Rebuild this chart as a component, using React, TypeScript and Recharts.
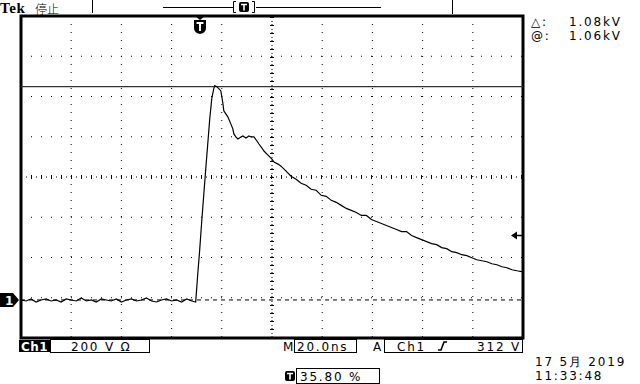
import React from "react";
import {
  LineChart,
  Line,
  XAxis,
  YAxis,
  CartesianGrid,
  ReferenceLine,
  ReferenceArea,
} from "recharts";

// Ch1 trace, time in ns (20 ns/div), volts relative to ground (200 V/div)
const timeNs = [
  0, 2, 4, 6, 8, 10, 12, 14, 16, 18, 20, 22, 24, 26, 28, 30, 32, 34, 36, 38,
  40, 42, 44, 46, 48, 50, 52, 54, 56, 58, 60, 62, 64, 66, 68, 69.6,
  70.4, 71.2, 72, 72.8, 73.6, 74.4, 75.2, 76, 76.8, 77.2,
  78, 78.8, 79.6, 80.4, 80.8, 81.6, 82.4, 83.6, 84.4, 84.8, 85.6, 86.4, 87.6,
  88.4, 89.6, 90.8, 91.6, 92.8, 94, 94.8, 96, 96.8, 98, 98.8, 100, 100.8,
  102.4, 103.6, 105.6, 107.6, 109.6, 111.6,
  113.6, 115.6, 117.6, 119.6, 121.6, 123.6, 125.6, 127.6, 129.6, 131.6, 133.6,
  135.6, 137.6, 139.6, 141.6, 143.6, 145.6, 147.6, 149.6, 151.6, 153.6, 155.6,
  157.6, 159.6, 161.6, 163.6, 165.6, 167.6, 169.6, 171.6, 173.6, 175.6, 177.6,
  179.6, 181.6, 183.6, 185.6, 187.6, 189.6, 191.6, 193.6, 195.6, 197.6, 200,
];

const ch1Volts = [
  0, -5, 5, -10, 0, 5, -5, 0, -10, 5, 0, -5, 10, -5, 0, -10, 5, 0, -5, 5,
  -10, 0, 5, -5, 0, 10, -5, -10, 0, 5, -5, 0, -10, 5, -5, -10,
  125, 250, 390, 520, 650, 775, 900, 1000, 1050, 1065,
  1060, 1050, 1040, 980, 940, 925, 910, 875, 850, 825, 810, 800, 810,
  815, 805, 815, 810, 810, 790, 775, 755, 740, 725, 715, 700, 685,
  675, 665, 640, 615, 600, 580,
  570, 550, 545, 520, 515, 495, 485, 470, 455, 445, 435,
  420, 420, 400, 390, 380, 370, 360, 350, 340, 340, 320,
  310, 300, 290, 280, 275, 260, 255, 240, 235, 225, 220,
  210, 200, 195, 190, 180, 175, 165, 160, 150, 145, 140,
];

// screen: 10 x 20 ns horizontally, 8 x 200 V vertically, ground a bit off-grid
const timeDomain = [0, 200];
const voltDomain = [-189, 1411];
const timeDivs = [0, 20, 40, 60, 80, 100, 120, 140, 160, 180, 200];
const voltDivs = [-189, 11, 211, 411, 611, 811, 1011, 1211, 1411];
const cursorVolts = 1060;
const groundVolts = 0;

const data = timeNs.map((t, i) => ({ t, v: ch1Volts[i] }));

// minor ticks on the frame: 5 per division
const timeMinor = Array.from({ length: 51 }, (_, i) => i * 4);
const voltMinor = Array.from({ length: 41 }, (_, i) => -189 + i * 40);

const FONT = "'DejaVu Sans', sans-serif";

function Overlay() {
  const txt = { fontFamily: FONT, fontSize: 12, letterSpacing: 1.8, fill: "#000" };
  return (
    <svg
      width={640}
      height={384}
      style={{ position: "absolute", left: 0, top: 0, pointerEvents: "none" }}
    >
      {/* header */}
      <text x={0} y={13} style={{ fontFamily: "'Liberation Serif', serif", fontWeight: 700, fontSize: 15, letterSpacing: 0.6 }}>
        Tek
      </text>
      <text x={35} y={14} style={{ fontFamily: "'Noto Sans CJK SC', sans-serif", fontSize: 12, fontWeight: 300 }}>
        停止
      </text>
      <line x1={92.5} y1={0} x2={92.5} y2={13} stroke="#000" />
      <line x1={163} y1={7.5} x2={233} y2={7.5} stroke="#000" />
      <line x1={256} y1={7.5} x2={381} y2={7.5} stroke="#000" />
      <path d="M236,1.5 L233.5,1.5 L233.5,12.5 L236,12.5 M252,1.5 L254.5,1.5 L254.5,12.5 L252,12.5" stroke="#000" fill="none" />
      <rect x={239} y={2} width={10} height={10} rx={2} fill="#000" />
      <path d="M241,4.5 L247,4.5 M244,4.5 L244,10.5" stroke="#fff" strokeWidth={1.6} />
      <line x1={452.5} y1={0} x2={452.5} y2={14} stroke="#000" />

      {/* trigger position marker */}
      <path d="M195,16 L205,16 L200,20 Z" fill="#000" />
      <path d="M194,20 L206,20 L206,28 Q206,33 200,34 Q194,33 194,28 Z" fill="#000" />
      <path d="M196.5,23 L203.5,23 M200,23 L200,31" stroke="#fff" strokeWidth={2} />

      {/* channel 1 ground marker */}
      <path d="M0,293 L13,293 L19,300 L13,307 L0,307 Z" fill="#000" />
      <text x={5} y={305} style={{ fontFamily: FONT, fontSize: 12, fontWeight: 700, fill: "#fff" }}>
        1
      </text>

      {/* trigger level arrow */}
      <path d="M511,235.5 L517,231.5 L517,239.5 Z" fill="#000" />
      <line x1={517} y1={235.5} x2={522} y2={235.5} stroke="#000" strokeWidth={1.5} />

      {/* cursor readout */}
      <text x={531} y={26} style={txt}>△:</text>
      <text x={569} y={26} style={txt}>1.08kV</text>
      <text x={531} y={40} style={txt}>@:</text>
      <text x={569} y={40} style={txt}>1.06kV</text>

      {/* bottom status line */}
      <rect x={19} y={340} width={31} height={12} fill="#000" />
      <text x={21} y={351} style={{ ...txt, fontWeight: 700, fill: "#fff", letterSpacing: 0.5 }}>Ch1</text>
      <rect x={50.5} y={339.5} width={99} height={13} fill="none" stroke="#000" />
      <text x={71} y={351} style={txt}>200 V  Ω</text>

      <text x={283} y={351} style={{ ...txt, letterSpacing: 0 }}>M</text>
      <rect x={294.5} y={339.5} width={62} height={13} fill="none" stroke="#000" />
      <text x={297} y={351} style={txt}>20.0ns</text>

      <text x={373} y={351} style={{ ...txt, letterSpacing: 0 }}>A</text>
      <rect x={384.5} y={339.5} width={138} height={13} fill="none" stroke="#000" />
      <text x={397} y={351} style={txt}>Ch1</text>
      <path d="M438,350 L441,350 L444,342 L447,342" stroke="#000" strokeWidth={1.6} fill="none" />
      <text x={521} y={351} textAnchor="end" style={txt}>312 V</text>

      <rect x={285} y={371} width={10} height={10} rx={2} fill="#000" />
      <path d="M287,373.5 L293,373.5 M290,373.5 L290,379.5" stroke="#fff" strokeWidth={1.6} />
      <rect x={296.5} y={368.5} width={83} height={15} fill="none" stroke="#000" />
      <text x={300} y={381} style={txt}>35.80 %</text>

      <text x={535} y={366} style={txt}>17 5月  2019</text>
      <text x={535} y={380} style={txt}>11:33:48</text>
    </svg>
  );
}

export default function App() {
  return (
    <div style={{ position: "absolute", left: 0, top: 0, width: 640, height: 384, background: "#fff" }}>
      <LineChart
        width={640}
        height={384}
        data={data}
        margin={{ top: 16, right: 117, bottom: 46, left: 21 }}
      >
        <XAxis xAxisId="t" dataKey="t" type="number" domain={timeDomain} ticks={timeDivs} hide />
        <YAxis yAxisId="v" type="number" domain={voltDomain} ticks={voltDivs} hide />

        {/* frame minor ticks, pointing inward */}
        <XAxis
          xAxisId="top"
          orientation="top"
          type="number"
          domain={timeDomain}
          ticks={timeMinor}
          interval={0}
          mirror
          height={0}
          tick={false}
          tickSize={3}
          axisLine={false}
          tickLine={{ stroke: "#000" }}
        />
        <XAxis
          xAxisId="bottom"
          orientation="bottom"
          type="number"
          domain={timeDomain}
          ticks={timeMinor}
          interval={0}
          mirror
          height={0}
          tick={false}
          tickSize={3}
          axisLine={false}
          tickLine={{ stroke: "#000" }}
        />
        <YAxis
          yAxisId="left"
          orientation="left"
          type="number"
          domain={voltDomain}
          ticks={voltMinor}
          interval={0}
          mirror
          width={0}
          tick={false}
          tickSize={3}
          axisLine={false}
          tickLine={{ stroke: "#000" }}
        />
        <YAxis
          yAxisId="right"
          orientation="right"
          type="number"
          domain={voltDomain}
          ticks={voltMinor}
          interval={0}
          mirror
          width={0}
          tick={false}
          tickSize={3}
          axisLine={false}
          tickLine={{ stroke: "#000" }}
        />

        <CartesianGrid xAxisId="t" yAxisId="v" vertical={false} stroke="#000" strokeDasharray="1 9" />
        <CartesianGrid xAxisId="t" yAxisId="v" horizontal={false} stroke="#000" strokeDasharray="1 7" />

        {/* centre graticule with tick crosses */}
        <ReferenceLine xAxisId="t" yAxisId="v" x={100} stroke="#000" strokeDasharray="1 3" />
        <ReferenceLine xAxisId="t" yAxisId="v" x={100} stroke="#000" strokeWidth={4} strokeDasharray="1 7" />
        <ReferenceLine xAxisId="t" yAxisId="v" y={611} stroke="#000" strokeDasharray="1 4" />
        <ReferenceLine xAxisId="t" yAxisId="v" y={611} stroke="#000" strokeWidth={4} strokeDasharray="1 9" />

        {/* cursors */}
        <ReferenceLine xAxisId="t" yAxisId="v" y={cursorVolts} stroke="#333" strokeWidth={1.2} />
        <ReferenceLine xAxisId="t" yAxisId="v" y={groundVolts} stroke="#000" strokeDasharray="4 4" />

        <ReferenceArea
          xAxisId="t"
          yAxisId="v"
          x1={timeDomain[0]}
          x2={timeDomain[1]}
          y1={voltDomain[0]}
          y2={voltDomain[1]}
          fill="none"
          stroke="#000"
          strokeWidth={3}
          fillOpacity={0}
        />

        <Line
          xAxisId="t"
          yAxisId="v"
          dataKey="v"
          type="linear"
          stroke="#000"
          strokeWidth={1.2}
          dot={false}
          isAnimationActive={false}
        />
      </LineChart>
      <Overlay />
    </div>
  );
}
